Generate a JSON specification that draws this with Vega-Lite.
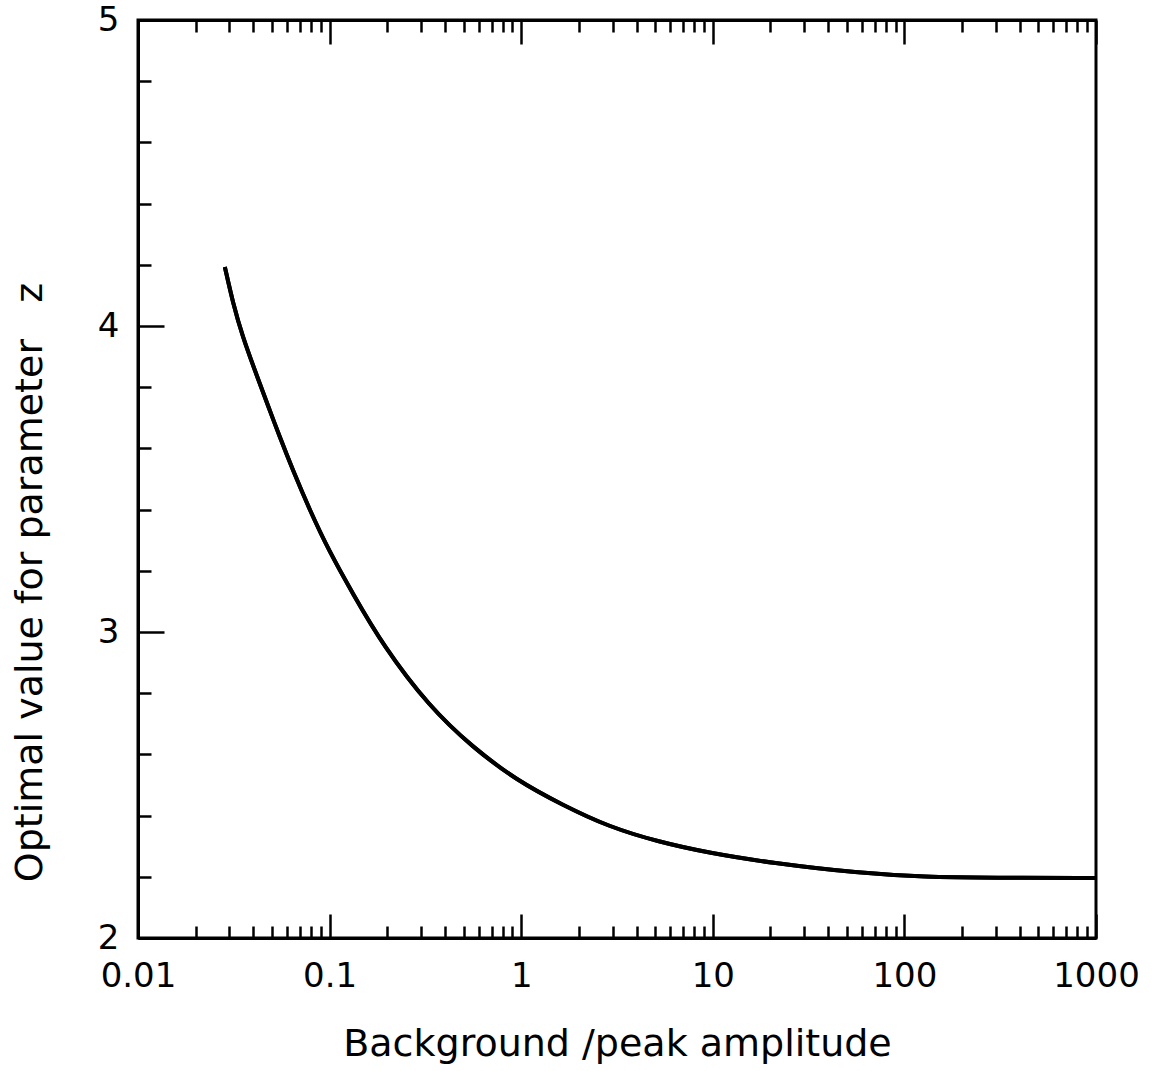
{
  "$schema": "https://vega.github.io/schema/vega-lite/v6.json",
  "autosize": "none",
  "padding": {"left": 138, "top": 20, "right": 60, "bottom": 133},
  "width": 958,
  "height": 918,
  "background": "white",
  "config": {
    "view": {"stroke": "black", "strokeWidth": 3},
    "axis": {
      "domainColor": "black", "domainWidth": 3,
      "tickColor": "black", "tickWidth": 2.5,
      "labelColor": "black", "labelFont": "DejaVu Sans",
      "titleColor": "black", "titleFont": "DejaVu Sans", "titleFontWeight": "normal",
      "grid": false
    }
  },
  "data": {"values": [
    {"ratio": 0.0284, "z": 4.193},
    {"ratio": 0.0313, "z": 4.075},
    {"ratio": 0.0352, "z": 3.964},
    {"ratio": 0.0407, "z": 3.856},
    {"ratio": 0.0470, "z": 3.750},
    {"ratio": 0.0549, "z": 3.638},
    {"ratio": 0.0641, "z": 3.531},
    {"ratio": 0.0787, "z": 3.399},
    {"ratio": 0.1, "z": 3.261},
    {"ratio": 0.1318, "z": 3.127},
    {"ratio": 0.189, "z": 2.958},
    {"ratio": 0.332, "z": 2.755},
    {"ratio": 0.556, "z": 2.624},
    {"ratio": 0.942, "z": 2.516},
    {"ratio": 1.64, "z": 2.435},
    {"ratio": 2.87, "z": 2.363},
    {"ratio": 5.23, "z": 2.314},
    {"ratio": 9.53, "z": 2.278},
    {"ratio": 20.3, "z": 2.245},
    {"ratio": 57.5, "z": 2.212},
    {"ratio": 128.5, "z": 2.199},
    {"ratio": 284, "z": 2.197},
    {"ratio": 1000, "z": 2.196}
  ]},
  "resolve": {"axis": {"x": "independent"}},
  "layer": [
    {
      "mark": {"type": "line", "color": "black", "strokeWidth": 4, "interpolate": "basis", "clip": true},
      "encoding": {
        "x": {
          "field": "ratio", "type": "quantitative",
          "scale": {"type": "log", "domain": [0.01, 1000], "nice": false},
          "axis": {
            "orient": "bottom",
            "title": "Background /peak amplitude",
            "titleFontSize": 38, "titlePadding": 20,
            "values": [0.01,0.02,0.03,0.04,0.05,0.06,0.07,0.08,0.09,0.1,0.2,0.3,0.4,0.5,0.6,0.7,0.8,0.9,1,2,3,4,5,6,7,8,9,10,20,30,40,50,60,70,80,90,100,200,300,400,500,600,700,800,900,1000],
            "format": "~g",
            "labelExpr": "abs(log(datum.value)/LN10 - round(log(datum.value)/LN10)) < 1e-6 ? datum.label : ''",
            "labelFontSize": 34, "labelPadding": 45, "labelFlush": false, "labelOverlap": false,
            "tickSize": {"condition": {"test": "abs(log(datum.value)/LN10 - round(log(datum.value)/LN10)) < 1e-6", "value": -24}, "value": -12}
          }
        },
        "y": {
          "field": "z", "type": "quantitative",
          "scale": {"domain": [2, 5], "nice": false, "zero": false},
          "axis": {
            "orient": "left",
            "title": "Optimal value for parameter\u00a0\u00a0\u00a0z",
            "titleFontSize": 38, "titlePadding": 48, "titleY": 562,
            "values": [2,2.1,2.2,2.3,2.4,2.5,2.6,2.7,2.8,2.9,3,3.1,3.2,3.3,3.4,3.5,3.6,3.7,3.8,3.9,4,4.1,4.2,4.3,4.4,4.5,4.6,4.7,4.8,4.9,5],
            "labelExpr": "abs(datum.value - round(datum.value)) < 1e-6 ? format(datum.value, 'd') : ''",
            "labelFontSize": 34, "labelPadding": 45, "labelFlush": false, "labelOverlap": false,
            "tickSize": {"condition": {"test": "abs(datum.value - round(datum.value)) < 1e-6", "value": -26}, "value": -13}
          }
        }
      }
    },
    {
      "mark": {"type": "line", "color": "black", "strokeWidth": 4, "interpolate": "basis", "clip": true},
      "encoding": {
        "x": {
          "field": "ratio", "type": "quantitative",
          "scale": {"type": "log", "domain": [0.01, 1000], "nice": false},
          "axis": {
            "orient": "top",
            "title": null,
            "values": [0.01,0.02,0.03,0.04,0.05,0.06,0.07,0.08,0.09,0.1,0.2,0.3,0.4,0.5,0.6,0.7,0.8,0.9,1,2,3,4,5,6,7,8,9,10,20,30,40,50,60,70,80,90,100,200,300,400,500,600,700,800,900,1000],
            "labels": false,
            "tickSize": {"condition": {"test": "abs(log(datum.value)/LN10 - round(log(datum.value)/LN10)) < 1e-6", "value": -24}, "value": -12}
          }
        },
        "y": {"field": "z", "type": "quantitative", "scale": {"domain": [2, 5], "nice": false, "zero": false}}
      }
    }
  ]
}
